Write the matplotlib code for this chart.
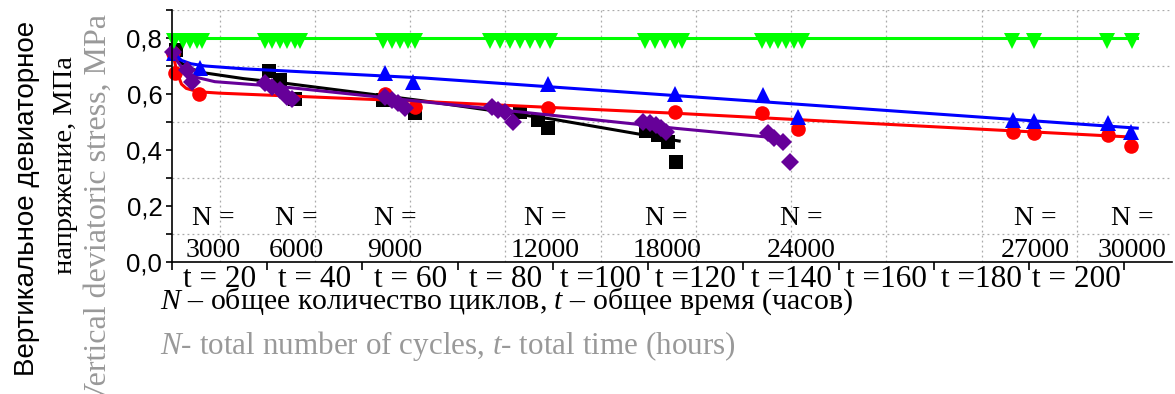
import numpy as np
import matplotlib.pyplot as plt
from matplotlib.ticker import FixedLocator, NullFormatter

plt.rcParams['font.family'] = ['Liberation Serif', 'DejaVu Serif']
plt.rcParams['mathtext.fontset'] = 'custom'
plt.rcParams['mathtext.it'] = 'Liberation Serif:italic'
plt.rcParams['mathtext.rm'] = 'Liberation Serif'

# measured points, t in hours, stress in MPa
black_t = [10.8, 30.4, 32.7, 35.8, 54.3, 61.0, 83.0, 86.9, 89.0, 109.6, 112.1, 114.2, 115.9]
black_v = [0.757, 0.683, 0.65, 0.582, 0.579, 0.531, 0.535, 0.507, 0.48, 0.468, 0.454, 0.427, 0.356]

red_t = [10.3, 10.6, 15.7, 54.7, 61.0, 89.0, 115.6, 134.0, 141.4, 186.6, 191.1, 206.5, 211.4]
red_v = [0.745, 0.676, 0.60, 0.599, 0.555, 0.551, 0.537, 0.531, 0.474, 0.465, 0.462, 0.454, 0.414]

blue_t = [10.4, 15.9, 54.7, 60.6, 89.0, 115.6, 134.1, 141.4, 186.6, 191.1, 206.5, 211.4]
blue_v = [0.745, 0.692, 0.674, 0.642, 0.635, 0.599, 0.596, 0.519, 0.507, 0.505, 0.495, 0.465]

purple_t = [10.2, 13.1, 14.2, 29.5, 30.9, 32.7, 34.1, 35.1, 54.7, 56.1, 57.5, 58.9,
            77.1, 78.5, 79.9, 81.6, 108.9, 110.3, 111.7, 112.7, 113.8,
            135.1, 136.5, 138.3, 139.7]
purple_v = [0.75, 0.686, 0.643, 0.638, 0.626, 0.614, 0.59, 0.582, 0.59, 0.579, 0.567, 0.549,
            0.555, 0.543, 0.535, 0.501, 0.501, 0.495, 0.489, 0.477, 0.465,
            0.46, 0.444, 0.427, 0.358]

green_t = [10.4, 12.3, 13.8, 15.2, 16.3, 29.5, 31.0, 32.7, 34.1, 35.8, 36.9,
           54.3, 56.2, 57.9, 59.5, 61.0, 76.7, 78.8, 80.9, 83.0, 85.1, 87.2, 89.3,
           109.3, 111.4, 113.5, 115.6, 117.0, 133.8, 135.5, 137.2, 138.9, 140.7, 142.2,
           186.5, 191.1, 206.4, 211.5]
green_v = [0.79] * len(green_t)

# fitted curves
fit_black_t = [10, 11, 12, 14, 17, 25, 33, 63, 90, 116.5]
fit_black_v = [0.757, 0.73, 0.71, 0.69, 0.675, 0.655, 0.64, 0.575, 0.51, 0.432]
fit_red_t = [10, 10.5, 11, 12, 13, 15.5, 20, 63, 116, 211.7]
fit_red_v = [0.757, 0.72, 0.68, 0.635, 0.62, 0.608, 0.603, 0.573, 0.531, 0.446]
fit_blue_t = [10, 11, 12, 14, 17, 25, 63, 116, 212.7]
fit_blue_v = [0.757, 0.735, 0.72, 0.708, 0.70, 0.69, 0.657, 0.594, 0.478]
fit_purple_t = [10, 11, 12.7, 15, 19, 33, 63, 116, 137]
fit_purple_v = [0.757, 0.72, 0.68, 0.66, 0.644, 0.626, 0.572, 0.477, 0.443]
fit_green_t = [10, 212.7]
fit_green_v = [0.8, 0.8]

# number of cycles and where their labels sit (hours)
cycles = [3000, 6000, 9000, 12000, 18000, 24000, 27000, 30000]
cycles_t = [18.6, 36.2, 56.8, 88.3, 113.9, 142.2, 191.3, 211.7]

hours = [20, 40, 60, 80, 100, 120, 140, 160, 180, 200]
hour_labels = ['t = 20', 't = 40', 't = 60', 't = 80', 't =100', 't =120',
               't =140', 't =160', 't =180', 't = 200']

W, H = 1175, 394
fig = plt.figure(figsize=(W / 100, H / 100), dpi=100)
ax = fig.add_axes([172 / W, 1 - 262 / H, 1000 / W, 252 / H])

series = [
    (black_t, black_v, fit_black_t, fit_black_v, 'black', 's', 9.5),
    (red_t, red_v, fit_red_t, fit_red_v, '#ff0000', 'o', 10.5),
    (blue_t, blue_v, fit_blue_t, fit_blue_v, '#0000ff', '^', 11),
    (purple_t, purple_v, fit_purple_t, fit_purple_v, '#660099', 'D', 9.5),
    (green_t, green_v, fit_green_t, fit_green_v, '#00ff00', 'v', 11),
]
for t, v, ft, fv, col, mk, ms in series:
    ax.plot(t, v, linestyle='none', marker=mk, color=col, markersize=ms,
            markeredgewidth=0, clip_on=False)
    ax.plot(ft, fv, color=col, linewidth=2.2, clip_on=False)

ax.set_xlim(10, 220)
ax.set_ylim(0, 0.9)

for s in ['top', 'right']:
    ax.spines[s].set_visible(False)
ax.spines['left'].set_linewidth(1.2)
ax.spines['bottom'].set_linewidth(1.2)

# x: tick marks on the odd tens, labels and grid on the even ones
ax.xaxis.set_major_locator(FixedLocator(np.arange(10, 211, 20)))
ax.xaxis.set_major_formatter(NullFormatter())
ax.xaxis.set_minor_locator(FixedLocator(hours))
ax.set_xticklabels(hour_labels, minor=True)
ax.tick_params(axis='x', which='major', direction='out', length=6, width=1.2)
ax.tick_params(axis='x', which='minor', length=0, pad=2, labelsize=22.5)

ax.yaxis.set_major_locator(FixedLocator([0, 0.2, 0.4, 0.6, 0.8]))
ax.set_yticklabels(['0,0', '0,2', '0,4', '0,6', '0,8'], family='Liberation Sans')
ax.yaxis.set_minor_locator(FixedLocator([0.1, 0.3, 0.5, 0.7, 0.9]))
ax.tick_params(axis='y', which='both', direction='out', length=4, width=1.2,
               labelsize=18.5, pad=3)

ax.grid(which='minor', color='#aaaaaa', linestyle=(0, (1.5, 2.5)), linewidth=0.9)

for n, tn in zip(cycles, cycles_t):
    ax.text(tn, 0.155, 'N =', ha='center', va='center', fontsize=20)
    ax.text(tn, 0.04, str(n), ha='center', va='center', fontsize=20)

fig.text(27 / W, 1 - 198 / H, 'Вертикальное девиаторное', rotation=90,
         ha='center', va='center', fontsize=20, family='Liberation Sans')
fig.text(65 / W, 1 - 56 / H, 'напряжение, МПа', rotation=90,
         ha='center', va='top', fontsize=20.5)
fig.text(98 / W, 1 - 14 / H, 'Vertical deviatoric stress, MPa', rotation=90,
         ha='center', va='top', fontsize=23, color='#999999')

fig.text(160 / W, 1 - 301 / H, '$N$ – общее количество циклов, $t$ – общее время (часов)',
         ha='left', va='center', fontsize=21.5)
fig.text(160 / W, 1 - 346 / H, '$N$- total number of cycles, $t$- total time (hours)',
         ha='left', va='center', fontsize=22.4, color='#999999')

fig.savefig('out.png', dpi=100)
